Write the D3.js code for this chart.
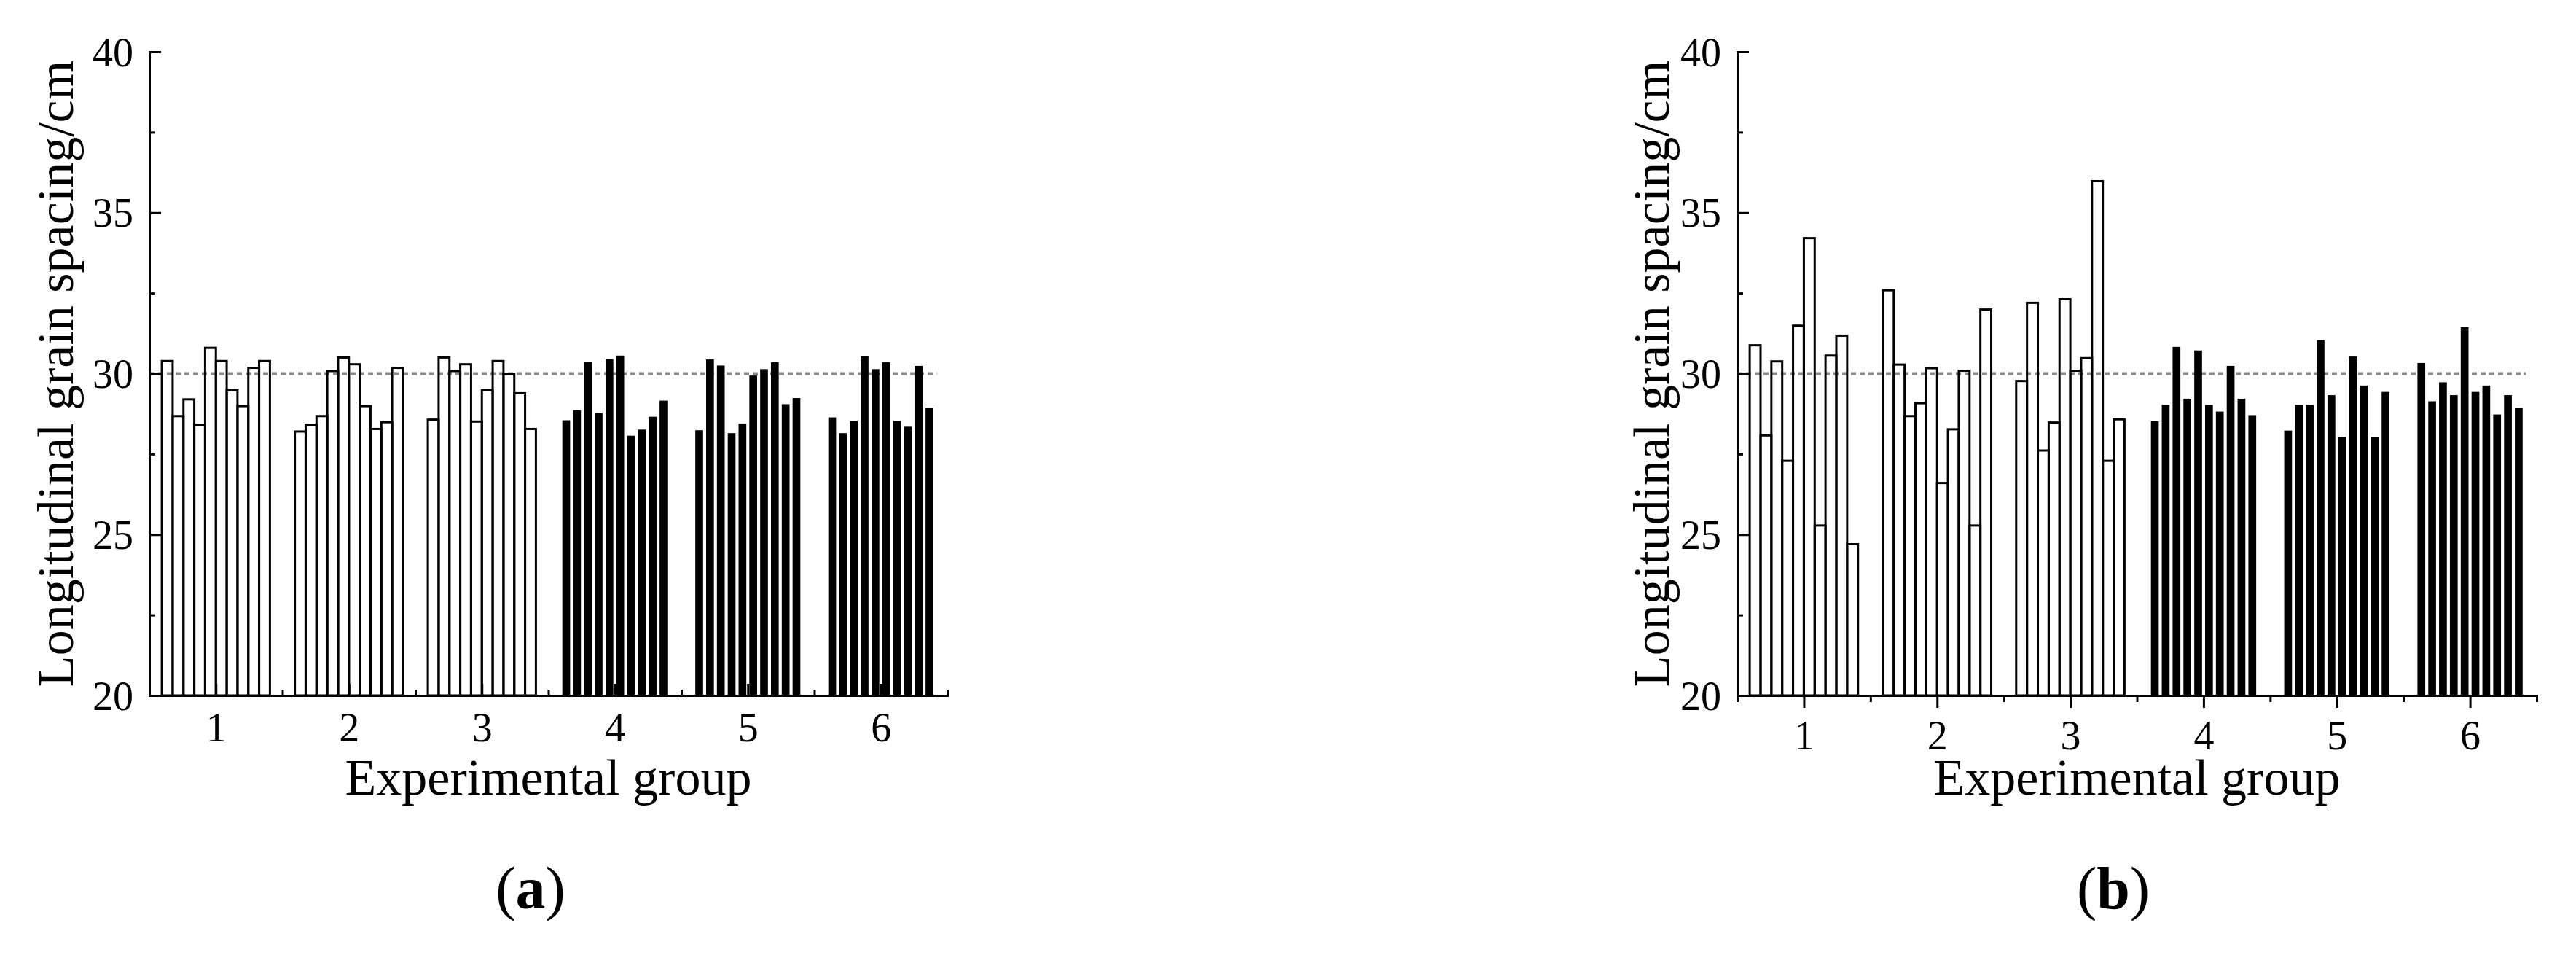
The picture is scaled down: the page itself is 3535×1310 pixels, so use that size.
<!DOCTYPE html>
<html><head><meta charset="utf-8">
<script src="https://cdn.jsdelivr.net/npm/d3@7"></script>
<style>
body{margin:0;background:#fff}
svg text{font-family:"Liberation Serif","Times New Roman",serif;fill:#000}
</style>
</head><body>
<svg id="c" width="3535" height="1310"></svg>
<script>
// ---- data ----
const groups = [1, 2, 3, 4, 5, 6];
const yTicks = [20, 25, 30, 35, 40];
const yMinorTicks = [22.5, 27.5, 32.5, 37.5];
const xMinorTicks = [0.5, 1.5, 2.5, 3.5, 4.5, 5.5, 6.5];
const referenceValue = 30;
const yLabel = "Longitudinal grain spacing/cm";
const xLabel = "Experimental group";

// panel (a)
const a_group1 = [30.39, 28.68, 29.20, 28.41, 30.80, 30.39, 29.48, 28.99, 30.18, 30.39];
const a_group2 = [28.20, 28.41, 28.68, 30.08, 30.50, 30.29, 28.99, 28.28, 28.49, 30.18];
const a_group3 = [28.57, 30.50, 30.08, 30.29, 28.51, 29.48, 30.39, 29.98, 29.39, 28.28];
const a_group4 = [28.55, 28.86, 30.37, 28.77, 30.45, 30.56, 28.07, 28.26, 28.66, 29.16];
const a_group5 = [28.24, 30.44, 30.25, 28.15, 28.45, 29.94, 30.14, 30.35, 29.05, 29.24];
const a_group6 = [28.64, 28.15, 28.53, 30.54, 30.14, 30.35, 28.53, 28.35, 30.24, 28.94];

// panel (b)
const b_group1 = [30.88, 28.08, 30.38, 27.29, 31.49, 34.21, 25.28, 30.56, 31.18, 24.70];
const b_group2 = [32.59, 30.28, 28.68, 29.08, 30.17, 26.60, 28.27, 30.09, 25.28, 31.99];
const b_group3 = [29.77, 32.20, 27.61, 28.48, 32.31, 30.09, 30.48, 35.98, 27.29, 28.58];
const b_group4 = [28.52, 29.03, 30.83, 29.22, 30.72, 29.03, 28.82, 30.24, 29.22, 28.71];
const b_group5 = [28.23, 29.03, 29.03, 31.04, 29.33, 28.03, 30.53, 29.63, 28.03, 29.43];
const b_group6 = [30.33, 29.14, 29.73, 29.33, 31.44, 29.43, 29.63, 28.73, 29.33, 28.93];

const svg = d3.select("#c");

function drawPanel(p) {
  const g = svg.append("g");
  const x = d3.scaleLinear().domain([0.5, 6.5]).range([p.left, p.right]);
  const y = d3.scaleLinear().domain([20, 40]).range([954, 71]);
  const halfGroup = 0.4063;

  // reference line (behind bars)
  g.append("line")
    .attr("x1", x(0.5)).attr("x2", x(6.42))
    .attr("y1", y(referenceValue)).attr("y2", y(referenceValue))
    .attr("stroke", "#8a8a8a").attr("stroke-width", 4)
    .attr("stroke-dasharray", "7,5");

  // bars
  p.data.forEach((vals, gi) => {
    const gv = groups[gi];
    const band = d3.scaleBand().domain(d3.range(vals.length))
      .range([x(gv - halfGroup), x(gv + halfGroup)]);
    const filled = gi >= 3;
    const bw = band.bandwidth();
    g.append("g").selectAll("rect").data(vals).enter().append("rect")
      .attr("x", (d, i) => filled ? band(i) + bw * 0.14 : band(i))
      .attr("width", filled ? bw * 0.72 : bw)
      .attr("y", d => y(d))
      .attr("height", d => y(20) - y(d))
      .attr("fill", filled ? "#000" : "none")
      .attr("stroke", filled ? "none" : "#000")
      .attr("stroke-width", 3);
  });

  // y axis
  const yAx = g.append("g").attr("transform", `translate(${p.left},0)`)
    .call(d3.axisLeft(y).tickValues(yTicks).tickSize(-16).tickSizeOuter(0).tickPadding(22));
  g.append("g").attr("transform", `translate(${p.left},0)`)
    .call(d3.axisLeft(y).tickValues(yMinorTicks).tickSize(-8).tickSizeOuter(0).tickFormat(""));

  // x axis
  const inward = p.xTicksInward;
  const xAx = g.append("g").attr("transform", `translate(0,${y(20)})`)
    .call(d3.axisBottom(x).tickValues(groups).tickFormat(d3.format("d"))
      .tickSize(inward ? -16 : 17).tickSizeOuter(0).tickPadding(inward ? 23 : 17));
  g.append("g").attr("transform", `translate(0,${y(20)})`)
    .call(d3.axisBottom(x).tickValues(xMinorTicks).tickFormat("")
      .tickSize(inward ? -8 : 9).tickSizeOuter(0));

  g.selectAll(".domain").attr("stroke-width", 3).attr("stroke-linecap", "square");
  g.selectAll(".tick line").attr("stroke-width", 3);
  g.selectAll(".tick text")
    .attr("font-size", 56)
    .attr("font-family", "'Liberation Serif','Times New Roman',serif");
  yAx.selectAll(".tick text").attr("dy", "0.34em");

  // axis titles
  g.append("text")
    .attr("transform", `translate(${p.yLabelX},${(y(20) + y(40)) / 2}) rotate(-90)`)
    .attr("text-anchor", "middle").attr("font-size", 70)
    .text(yLabel);
  g.append("text")
    .attr("x", (p.left + p.right) / 2).attr("y", 1090)
    .attr("text-anchor", "middle").attr("font-size", 70)
    .text(xLabel);

  // panel label
  const t = g.append("text").attr("x", p.labelX).attr("y", 1246)
    .attr("text-anchor", "middle").attr("font-size", 82);
  t.append("tspan").text("(");
  t.append("tspan").attr("font-weight", "bold").text(p.letter);
  t.append("tspan").text(")");
}

drawPanel({
  left: 205, right: 1300, xTicksInward: true, yLabelX: 100, labelX: 728, letter: "a",
  data: [a_group1, a_group2, a_group3, a_group4, a_group5, a_group6]
});
drawPanel({
  left: 2384, right: 3481, xTicksInward: false, yLabelX: 2290, labelX: 2900, letter: "b",
  data: [b_group1, b_group2, b_group3, b_group4, b_group5, b_group6]
});
</script>
</body></html>
